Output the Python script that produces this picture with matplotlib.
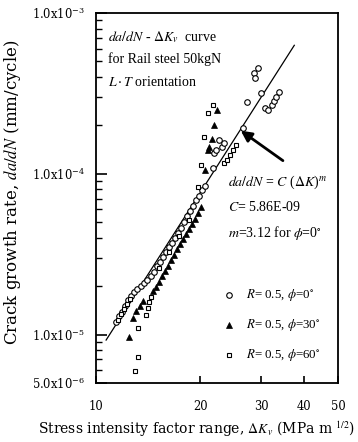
import matplotlib.pyplot as plt
import numpy as np
from matplotlib.ticker import LogLocator, NullFormatter

plt.rcParams['font.family'] = ['Liberation Serif', 'DejaVu Serif']
plt.rcParams['mathtext.fontset'] = 'stix'

# phi = 0 deg (open circles)
c_dk = [11.44, 11.67, 11.91, 12.15, 12.40, 12.66, 12.91, 13.18, 13.45, 13.72,
        14.00, 14.39, 14.68, 14.97, 15.28, 15.60, 15.91, 16.24, 16.57, 16.90,
        17.25, 17.60, 17.96, 18.32, 18.70, 19.08, 19.47, 19.87, 20.28, 20.70,
        21.84, 21.98, 22.28, 23.05, 23.36, 22.74, 26.55, 27.28, 28.58, 29.37,
        28.77, 29.97, 30.79, 31.41, 32.27, 32.70, 33.15, 33.82]
c_rate = [1.20e-5, 1.31e-5, 1.38e-5, 1.51e-5, 1.64e-5, 1.74e-5, 1.84e-5, 1.92e-5, 2.00e-5, 2.09e-5,
          2.19e-5, 2.31e-5, 2.45e-5, 2.67e-5, 2.83e-5, 3.04e-5, 3.27e-5, 3.51e-5, 3.72e-5, 3.99e-5,
          4.28e-5, 4.60e-5, 5.01e-5, 5.47e-5, 5.87e-5, 6.31e-5, 6.87e-5, 7.28e-5, 7.93e-5, 8.39e-5,
          1.09e-4, 1.35e-4, 1.41e-4, 1.47e-4, 1.56e-4, 1.62e-4, 1.93e-4, 2.80e-4, 4.24e-4, 4.55e-4,
          3.95e-4, 3.18e-4, 2.56e-4, 2.49e-4, 2.68e-4, 2.84e-4, 3.00e-4, 3.23e-4]

# phi = 30 deg (filled triangles)
t_dk = [12.49, 12.83, 13.09, 13.36, 13.63, 14.58, 14.88, 15.18, 15.49, 15.81,
        16.13, 16.46, 16.80, 17.14, 17.49, 17.85, 18.20, 18.58, 18.96, 19.34,
        19.74, 20.14, 20.70, 21.12, 21.27, 21.70, 21.98, 22.44]
t_rate = [9.66e-6, 1.27e-5, 1.40e-5, 1.51e-5, 1.62e-5, 1.87e-5, 1.98e-5, 2.12e-5, 2.31e-5, 2.49e-5,
          2.67e-5, 2.91e-5, 3.13e-5, 3.40e-5, 3.66e-5, 3.93e-5, 4.22e-5, 4.54e-5, 4.87e-5, 5.24e-5,
          5.70e-5, 6.22e-5, 1.06e-4, 1.41e-4, 1.47e-4, 1.64e-4, 2.01e-4, 2.49e-4]

# phi = 60 deg (open squares)
s_dk = [13.00, 13.27, 13.27, 13.91, 14.09, 14.19, 14.39, 11.60, 11.83, 12.07,
        12.32, 12.57, 15.18, 16.24, 17.37, 18.58, 19.74, 20.14, 20.55, 21.12,
        21.84, 23.36, 23.83, 24.32, 24.81, 25.32]
s_rate = [5.94e-6, 7.26e-6, 1.10e-5, 1.32e-5, 1.46e-5, 1.60e-5, 1.71e-5, 1.23e-5, 1.34e-5, 1.44e-5,
          1.55e-5, 1.66e-5, 2.59e-5, 3.27e-5, 4.10e-5, 5.16e-5, 8.28e-5, 1.13e-4, 1.69e-4, 2.39e-4,
          2.68e-4, 1.17e-4, 1.22e-4, 1.31e-4, 1.41e-4, 1.51e-4]

# fitted line as drawn
fit_dk = [10.7, 37.4]
fit_rate = [9.25e-6, 6.3e-4]

fig = plt.figure(figsize=(3.58, 4.42), dpi=100)
ax = fig.add_axes([0.268, 0.1335, 0.676, 0.837])

ax.plot(fit_dk, fit_rate, c="black", lw=0.9)
ax.plot(c_dk, c_rate, ls="none", marker="o", ms=4.0, mfc="white", mec="black", mew=0.8)
ax.plot(t_dk, t_rate, ls="none", marker="^", ms=4.5, mfc="black", mec="black", mew=0.5)
ax.plot(s_dk, s_rate, ls="none", marker="s", ms=3.3, mfc="white", mec="black", mew=0.8)

ax.set_xscale("log")
ax.set_yscale("log")
ax.set_xlim(10, 50)
ax.set_ylim(5e-6, 1e-3)

tickfont = dict(family="DejaVu Serif", size=8.3)
ax.set_xticks([10, 20, 30, 40, 50])
ax.set_xticklabels(["10", "20", "30", "40", "50"], fontdict=tickfont)
ax.xaxis.set_minor_locator(plt.NullLocator())
ax.set_yticks([5e-6, 1e-5, 1e-4, 1e-3])
ax.set_yticklabels([r"$\mathregular{5.0x10^{-6}}$", r"$\mathregular{1.0x10^{-5}}$",
                    r"$\mathregular{1.0x10^{-4}}$", r"$\mathregular{1.0x10^{-3}}$"], fontdict=tickfont)
ax.yaxis.set_minor_locator(LogLocator(base=10, subs=np.arange(2, 10)))
ax.yaxis.set_minor_formatter(NullFormatter())
ax.tick_params(axis="both", which="major", direction="in", length=8, width=1.2)
ax.tick_params(axis="x", which="major", length=5, pad=12)
ax.tick_params(axis="y", which="major", pad=8)
ax.tick_params(axis="y", which="minor", direction="in", length=4.5, width=1.0)
for s in ax.spines.values():
    s.set_linewidth(1.3)

ax.set_xlabel(r"Stress intensity factor range, $\it{\Delta K}_{v}$ (MPa m $^{1/2}$)",
              family="DejaVu Serif", fontsize=10)
ax.xaxis.set_label_coords(0.417, -0.100)
ax.set_ylabel(r"Crack growth rate, $\it{da/dN}$ (mm/cycle)", family="DejaVu Serif", fontsize=12)
ax.yaxis.set_label_coords(-0.30, 0.515)

# annotation texts
fs = 10
ax.text(0.05, 0.935, r"$\it{da/dN}$ - $\it{\Delta K}_{v}$  curve", transform=ax.transAxes, fontsize=fs, va="center")
ax.text(0.05, 0.876, "for Rail steel 50kgN", transform=ax.transAxes, fontsize=fs, va="center")
ax.text(0.05, 0.814, r"$\it{L\cdot T}$ orientation", transform=ax.transAxes, fontsize=fs, va="center")
ax.text(0.545, 0.542, r"$\it{da/dN}$ = $\it{C}$ ($\it{\Delta K}$)$^{\it{m}}$", transform=ax.transAxes, fontsize=fs, va="center")
ax.text(0.545, 0.475, r"$\it{C}$= 5.86E-09", transform=ax.transAxes, fontsize=fs, va="center")
ax.text(0.545, 0.405, r"$\it{m}$=3.12 for $\phi$=0$^{\circ}$", transform=ax.transAxes, fontsize=fs, va="center")

ax.annotate("", xy=(25.8, 1.9e-4), xytext=(35.2, 1.18e-4),
            arrowprops=dict(arrowstyle="-|>", color="black", lw=2.0, mutation_scale=16))

# legend drawn by hand
leg_y = [0.237, 0.157, 0.076]
leg_txt = [r"$\it{R}$= 0.5, $\phi$=0$^{\circ}$", r"$\it{R}$= 0.5, $\phi$=30$^{\circ}$", r"$\it{R}$= 0.5, $\phi$=60$^{\circ}$"]
leg_mk = [dict(marker="o", ms=4.0, mfc="white", mew=0.8), dict(marker="^", ms=4.5, mfc="black", mew=0.5),
          dict(marker="s", ms=3.3, mfc="white", mew=0.8)]
for y, t, m in zip(leg_y, leg_txt, leg_mk):
    ax.plot([0.55], [y], transform=ax.transAxes, ls="none", mec="black", **m)
    ax.text(0.62, y, t, transform=ax.transAxes, fontsize=9.3, va="center")

fig.savefig("out.png", dpi=100)
